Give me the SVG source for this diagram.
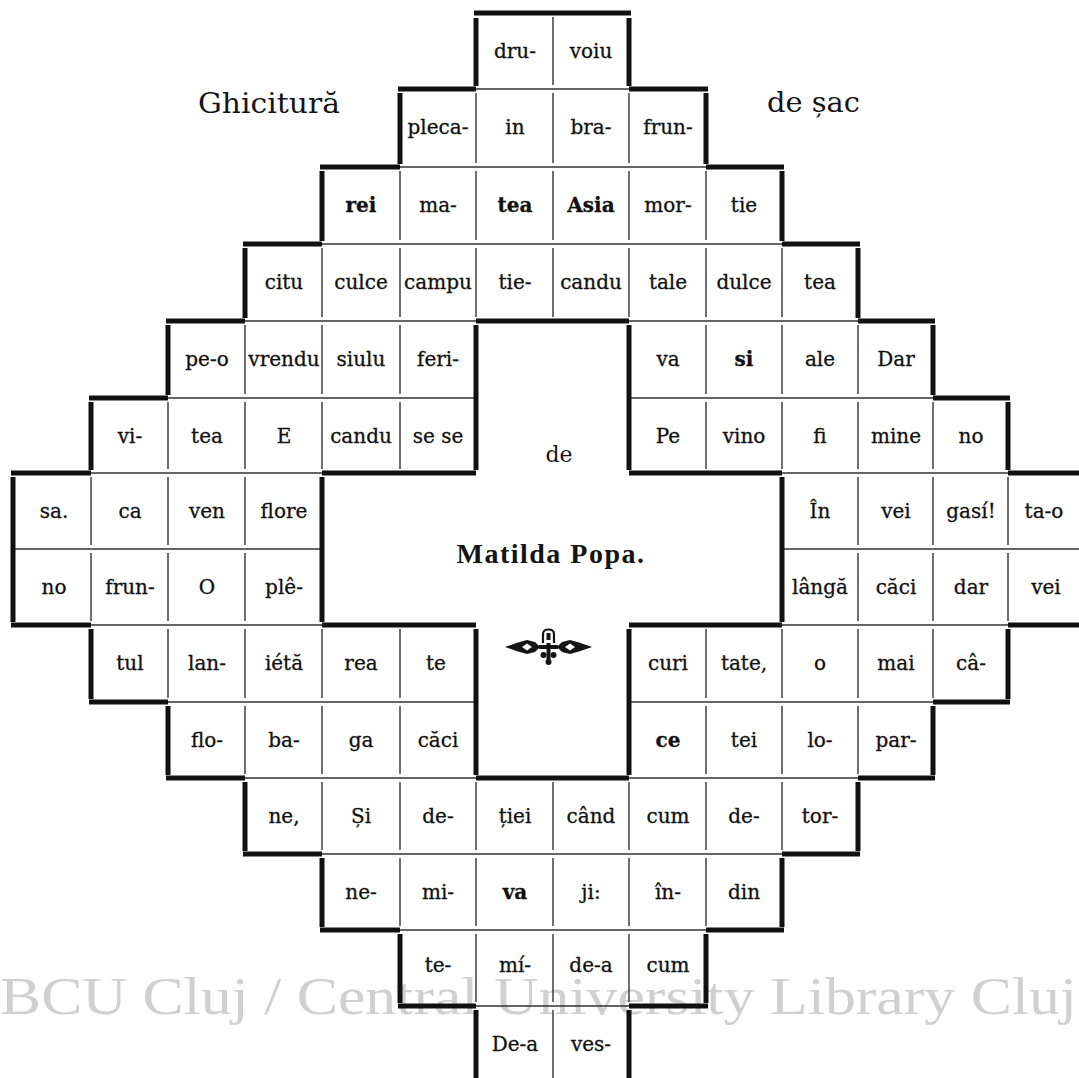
<svg xmlns="http://www.w3.org/2000/svg" width="1079" height="1078" viewBox="0 0 1079 1078">
<style>
.thick{stroke:#111;stroke-width:5;fill:none;stroke-linecap:butt}
.thin{stroke:#333;stroke-width:1.4;fill:none}
.cell{font-family:"DejaVu Serif","Liberation Serif",serif;font-size:20px;text-anchor:middle;fill:#111;stroke:#111;stroke-width:0.3}
.b{font-weight:bold}
.title{font-family:"DejaVu Serif","Liberation Serif",serif;font-size:28px;fill:#151515}
.wm{font-family:"Liberation Serif",serif;font-size:52px;fill:#d0d0d0}
</style>
<rect x="0" y="0" width="1079" height="1078" fill="#ffffff"/>
<text class="wm" x="0" y="1014" textLength="1077" lengthAdjust="spacingAndGlyphs">BCU Cluj / Central University Library Cluj</text>
<g id="titles">
<text class="title" x="198" y="113" textLength="142" lengthAdjust="spacingAndGlyphs">Ghicitură</text>
<text class="title" x="767" y="112" textLength="93" lengthAdjust="spacingAndGlyphs">de șac</text>
</g>
<g id="grid">
<path class="thin" d="M476,89H629 M400,167H706 M322,244H782 M245,321H476 M629,321H858 M168,398H476 M629,398H933 M91,473H322 M782,473H1008 M13,549H322 M782,549H1079 M91,625H322 M782,625H1008 M168,702H476 M629,702H933 M245,778H476 M629,778H858 M322,854H782 M400,930H706 M476,1006H629"/>
<path class="thin" d="M553,17V85 M476,93V163 M553,93V163 M629,93V163 M400,171V240 M476,171V240 M553,171V240 M629,171V240 M706,171V240 M322,248V317 M400,248V317 M476,248V317 M553,248V317 M629,248V317 M706,248V317 M782,248V317 M245,325V394 M322,325V394 M400,325V394 M706,325V394 M782,325V394 M858,325V394 M168,402V469 M245,402V469 M322,402V469 M400,402V469 M706,402V469 M782,402V469 M858,402V469 M933,402V469 M91,477V545 M168,477V545 M245,477V545 M858,477V545 M933,477V545 M1008,477V545 M91,553V621 M168,553V621 M245,553V621 M858,553V621 M933,553V621 M1008,553V621 M168,629V698 M245,629V698 M322,629V698 M400,629V698 M706,629V698 M782,629V698 M858,629V698 M933,629V698 M245,706V774 M322,706V774 M400,706V774 M706,706V774 M782,706V774 M858,706V774 M322,782V850 M400,782V850 M476,782V850 M553,782V850 M629,782V850 M706,782V850 M782,782V850 M400,858V926 M476,858V926 M553,858V926 M629,858V926 M706,858V926 M476,934V1002 M553,934V1002 M629,934V1002 M553,1010V1078"/>
<path class="thick" d="M474,13H631 M398,89H476 M629,89H708 M320,167H400 M706,167H784 M243,244H322 M782,244H860 M166,321H245 M476,321H629 M858,321H935 M89,398H168 M933,398H1010 M11,473H91 M322,473H476 M629,473H782 M1008,473H1079 M11,625H91 M322,625H476 M629,625H782 M1008,625H1079 M89,702H168 M933,702H1010 M166,778H245 M476,778H629 M858,778H935 M243,854H322 M782,854H860 M320,930H400 M706,930H784 M398,1006H476 M629,1006H708"/>
<path class="thick" d="M476,18V86 M629,18V86 M400,93V164 M706,93V164 M322,171V241 M782,171V241 M245,248V318 M858,248V318 M168,325V395 M933,325V395 M476,325V470 M629,325V470 M91,402V470 M1008,402V470 M13,477V622 M322,477V622 M782,477V622 M91,629V699 M1008,629V699 M476,629V775 M629,629V775 M168,706V775 M933,706V775 M245,782V851 M858,782V851 M322,858V927 M782,858V927 M400,934V1003 M706,934V1003 M476,1010V1078 M629,1010V1078"/>
</g>
<g id="center">
<text x="559" y="462" font-family="DejaVu Serif, serif" font-size="22" text-anchor="middle" fill="#151515">de</text>
<text x="551" y="563" font-family="Liberation Serif, serif" font-size="28" font-weight="bold" letter-spacing="1.5" text-anchor="middle" fill="#151515">Matilda Popa.</text>
<g id="ornament" fill="#151515" stroke="#151515">
<path d="M505,647 L518,642.5 L527,640 L535,642 L540,647 L535,652 L527,654 L518,651.5 Z" stroke="none"/>
<path d="M522,647 L527,643.5 L532,647 L527,650.5 Z" fill="#ffffff" stroke="none"/>
<path d="M592,647 L579,642.5 L570,640 L562,642 L557,647 L562,652 L570,654 L579,651.5 Z" stroke="none"/>
<path d="M575,647 L570,643.5 L565,647 L570,650.5 Z" fill="#ffffff" stroke="none"/>
<path d="M543,643 V634 Q543,629.5 548.5,629.5 Q554,629.5 554,634 V643" fill="none" stroke-width="2.2"/>
<rect x="546.5" y="633" width="4" height="7" stroke="none"/>
<rect x="539" y="645" width="19" height="4" stroke="none"/>
<rect x="546.5" y="643" width="4" height="19" stroke="none"/>
<circle cx="543.5" cy="655" r="3" stroke="none"/>
<circle cx="553.5" cy="655" r="3" stroke="none"/>
<circle cx="548.5" cy="662" r="3" stroke="none"/>
</g>
</g>
<g id="cells" class="cell">
<g id="r0c6"><text x="515" y="58">dru-</text></g>
<g id="r0c7"><text x="591" y="58">voiu</text></g>
<g id="r1c5"><text x="438" y="134">pleca-</text></g>
<g id="r1c6"><text x="515" y="134">in</text></g>
<g id="r1c7"><text x="591" y="134">bra-</text></g>
<g id="r1c8"><text x="668" y="134">frun-</text></g>
<g id="r2c4"><text class="b" x="361" y="212">rei</text></g>
<g id="r2c5"><text x="438" y="212">ma-</text></g>
<g id="r2c6"><text class="b" x="515" y="212">tea</text></g>
<g id="r2c7"><text class="b" x="591" y="212">Asia</text></g>
<g id="r2c8"><text x="668" y="212">mor-</text></g>
<g id="r2c9"><text x="744" y="212">tie</text></g>
<g id="r3c3"><text x="284" y="289">citu</text></g>
<g id="r3c4"><text x="361" y="289">culce</text></g>
<g id="r3c5"><text x="438" y="289">campu</text></g>
<g id="r3c6"><text x="515" y="289">tie-</text></g>
<g id="r3c7"><text x="591" y="289">candu</text></g>
<g id="r3c8"><text x="668" y="289">tale</text></g>
<g id="r3c9"><text x="744" y="289">dulce</text></g>
<g id="r3c10"><text x="820" y="289">tea</text></g>
<g id="r4c2"><text x="207" y="366">pe-o</text></g>
<g id="r4c3"><text x="284" y="366">vrendu</text></g>
<g id="r4c4"><text x="361" y="366">siulu</text></g>
<g id="r4c5"><text x="438" y="366">feri-</text></g>
<g id="r4c8"><text x="668" y="366">va</text></g>
<g id="r4c9"><text class="b" x="744" y="366">si</text></g>
<g id="r4c10"><text x="820" y="366">ale</text></g>
<g id="r4c11"><text x="896" y="366">Dar</text></g>
<g id="r5c1"><text x="130" y="443">vi-</text></g>
<g id="r5c2"><text x="207" y="443">tea</text></g>
<g id="r5c3"><text x="284" y="443">E</text></g>
<g id="r5c4"><text x="361" y="443">candu</text></g>
<g id="r5c5"><text x="438" y="443">se se</text></g>
<g id="r5c8"><text x="668" y="443">Pe</text></g>
<g id="r5c9"><text x="744" y="443">vino</text></g>
<g id="r5c10"><text x="820" y="443">fi</text></g>
<g id="r5c11"><text x="896" y="443">mine</text></g>
<g id="r5c12"><text x="971" y="443">no</text></g>
<g id="r6c0"><text x="54" y="518">sa.</text></g>
<g id="r6c1"><text x="130" y="518">ca</text></g>
<g id="r6c2"><text x="207" y="518">ven</text></g>
<g id="r6c3"><text x="284" y="518">flore</text></g>
<g id="r6c10"><text x="820" y="518">În</text></g>
<g id="r6c11"><text x="896" y="518">vei</text></g>
<g id="r6c12"><text x="971" y="518">gasí!</text></g>
<g id="r6c13"><text x="1044" y="518">ta-o</text></g>
<g id="r7c0"><text x="54" y="594">no</text></g>
<g id="r7c1"><text x="130" y="594">frun-</text></g>
<g id="r7c2"><text x="207" y="594">O</text></g>
<g id="r7c3"><text x="284" y="594">plê-</text></g>
<g id="r7c10"><text x="820" y="594">lângă</text></g>
<g id="r7c11"><text x="896" y="594">căci</text></g>
<g id="r7c12"><text x="971" y="594">dar</text></g>
<g id="r7c13"><text x="1046" y="594">vei</text></g>
<g id="r8c1"><text x="130" y="670">tul</text></g>
<g id="r8c2"><text x="207" y="670">lan-</text></g>
<g id="r8c3"><text x="284" y="670">iétă</text></g>
<g id="r8c4"><text x="361" y="670">rea</text></g>
<g id="r8c5"><text x="436" y="670">te</text></g>
<g id="r8c8"><text x="668" y="670">curi</text></g>
<g id="r8c9"><text x="744" y="670">tate,</text></g>
<g id="r8c10"><text x="820" y="670">o</text></g>
<g id="r8c11"><text x="896" y="670">mai</text></g>
<g id="r8c12"><text x="971" y="670">câ-</text></g>
<g id="r9c2"><text x="207" y="747">flo-</text></g>
<g id="r9c3"><text x="284" y="747">ba-</text></g>
<g id="r9c4"><text x="361" y="747">ga</text></g>
<g id="r9c5"><text x="438" y="747">căci</text></g>
<g id="r9c8"><text class="b" x="668" y="747">ce</text></g>
<g id="r9c9"><text x="744" y="747">tei</text></g>
<g id="r9c10"><text x="820" y="747">lo-</text></g>
<g id="r9c11"><text x="896" y="747">par-</text></g>
<g id="r10c3"><text x="284" y="823">ne,</text></g>
<g id="r10c4"><text x="361" y="823">Și</text></g>
<g id="r10c5"><text x="438" y="823">de-</text></g>
<g id="r10c6"><text x="515" y="823">ției</text></g>
<g id="r10c7"><text x="591" y="823">când</text></g>
<g id="r10c8"><text x="668" y="823">cum</text></g>
<g id="r10c9"><text x="744" y="823">de-</text></g>
<g id="r10c10"><text x="820" y="823">tor-</text></g>
<g id="r11c4"><text x="361" y="899">ne-</text></g>
<g id="r11c5"><text x="438" y="899">mi-</text></g>
<g id="r11c6"><text class="b" x="515" y="899">va</text></g>
<g id="r11c7"><text x="591" y="899">ji:</text></g>
<g id="r11c8"><text x="668" y="899">în-</text></g>
<g id="r11c9"><text x="744" y="899">din</text></g>
<g id="r12c5"><text x="438" y="972">te-</text></g>
<g id="r12c6"><text x="515" y="972">mí-</text></g>
<g id="r12c7"><text x="591" y="972">de-a</text></g>
<g id="r12c8"><text x="668" y="972">cum</text></g>
<g id="r13c6"><text x="515" y="1051">De-a</text></g>
<g id="r13c7"><text x="591" y="1051">ves-</text></g>
</g>
</svg>
